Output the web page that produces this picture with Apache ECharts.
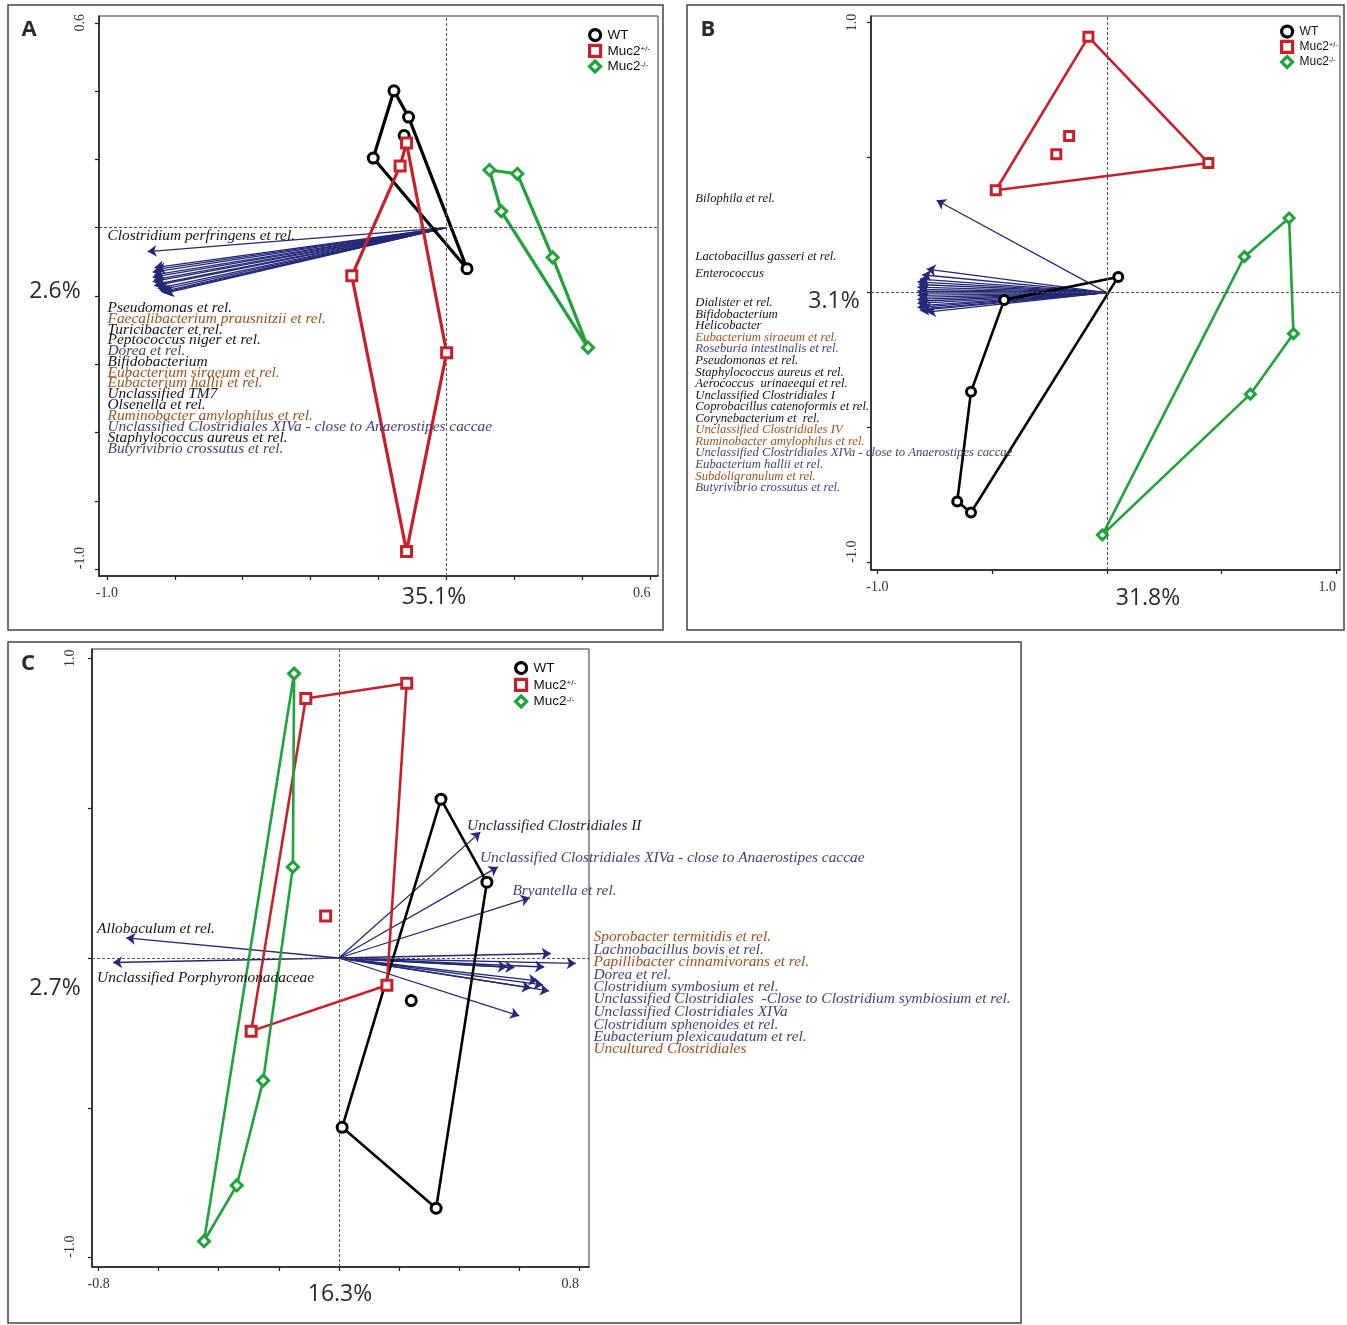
<!DOCTYPE html>
<html><head><meta charset="utf-8">
<script src="https://cdn.jsdelivr.net/npm/echarts@6/dist/echarts.min.js"></script>
<style>html,body{margin:0;padding:0;background:#fff}#c{width:1347px;height:1325px}</style>
</head><body><div id="c"></div>
<script>
// ---------- shared ----------
const groups = ['WT', 'Muc2+/-', 'Muc2-/-'];
const K = '#141414', BR = '#a0501c', SL = '#42427a';

// ---------- Panel A ----------
const A_WT = [[-0.155, 0.401], [-0.112, 0.324], [-0.125, 0.270], [-0.216, 0.204], [0.060, -0.120]];
const A_WT_hull = [3, 0, 1, 4];
const A_HET = [[-0.118, 0.248], [-0.137, 0.181], [-0.279, -0.141], [0.0, -0.366], [-0.118, -0.948]];
const A_HET_hull = [0, 3, 4, 2, 1];
const A_KO = [[0.126, 0.169], [0.208, 0.158], [0.161, 0.048], [0.312, -0.087], [0.416, -0.351]];
const A_KO_hull = [0, 1, 3, 4, 2];
const A_arrowTips = [[-0.880, -0.070], [-0.860, -0.117], [-0.855, -0.122], [-0.865, -0.130], [-0.860, -0.138],
  [-0.865, -0.145], [-0.860, -0.152], [-0.865, -0.158], [-0.855, -0.165], [-0.860, -0.170],
  [-0.850, -0.178], [-0.845, -0.183], [-0.840, -0.188], [-0.835, -0.190], [-0.830, -0.192]];
const A_labels = ['Clostridium perfringens et rel.', 'Pseudomonas et rel.', 'Faecalibacterium prausnitzii et rel.',
  'Turicibacter et rel.', 'Peptococcus niger et rel.', 'Dorea et rel.', 'Bifidobacterium',
  'Eubacterium siraeum et rel.', 'Eubacterium hallii et rel.', 'Unclassified TM7', 'Olsenella et rel.',
  'Ruminobacter amylophilus et rel.', 'Unclassified Clostridiales XIVa - close to Anaerostipes caccae',
  'Staphylococcus aureus et rel.', 'Butyrivibrio crossutus et rel.'];
const A_labelColors = [K, K, BR, K, K, SL, K, BR, BR, K, K, BR, SL, K, SL];
const A_labelPos = [[-0.998, -0.025], [-0.998, -0.234], [-0.998, -0.266], [-0.998, -0.298], [-0.998, -0.329],
  [-0.998, -0.361], [-0.998, -0.393], [-0.998, -0.425], [-0.998, -0.456], [-0.998, -0.488],
  [-0.998, -0.520], [-0.998, -0.552], [-0.998, -0.583], [-0.998, -0.615], [-0.998, -0.647]];
const A_xTicks = [-1.0, -0.8, -0.6, -0.4, -0.2, 0.0, 0.2, 0.4, 0.6];
const A_yTicks = [-1.0, -0.8, -0.6, -0.4, -0.2, 0.0, 0.2, 0.4, 0.6];
const A_xLabels = [-1.0, 0.6];
const A_yLabels = [-1.0, 0.6];

// ---------- Panel B ----------
const B_WT = [[0.050, 0.058], [-0.447, -0.027], [-0.592, -0.367], [-0.652, -0.773], [-0.592, -0.814]];
const B_WT_hull = [0, 1, 2, 3, 4];
const B_HET = [[-0.080, 0.947], [-0.164, 0.580], [-0.220, 0.512], [0.443, 0.480], [-0.484, 0.379]];
const B_HET_hull = [0, 3, 4];
const B_KO = [[0.795, 0.276], [0.600, 0.133], [0.814, -0.152], [0.626, -0.376], [-0.019, -0.897]];
const B_KO_hull = [0, 2, 3, 4, 1];
const B_arrowTips = [[-0.742, 0.342], [-0.785, 0.087], [-0.805, 0.066], [-0.815, 0.050], [-0.825, 0.040],
  [-0.820, 0.030], [-0.825, 0.020], [-0.815, 0.012], [-0.825, 0.005], [-0.820, -0.002], [-0.825, -0.010],
  [-0.815, -0.018], [-0.825, -0.025], [-0.820, -0.032], [-0.825, -0.040], [-0.815, -0.048],
  [-0.825, -0.055], [-0.805, -0.060], [-0.815, -0.066], [-0.785, -0.072]];
const B_labels = ['Bilophila et rel.', 'Lactobacillus gasseri et rel.', 'Enterococcus', 'Dialister et rel.',
  'Bifidobacterium', 'Helicobacter', 'Eubacterium siraeum et rel.', 'Roseburia intestinalis et rel.',
  'Pseudomonas et rel.', 'Staphylococcus aureus et rel.', 'Aerococcus  urinaeequi et rel.',
  'Unclassified Clostridiales I', 'Coprobacillus catenoformis et rel.', 'Corynebacterium et  rel.',
  'Unclassified Clostridiales IV', 'Ruminobacter amylophilus et rel.',
  'Unclassified Clostridiales XIVa - close to Anaerostipes caccae', 'Eubacterium hallii et rel.',
  'Subdoligranulum et rel.', 'Butyrivibrio crossutus et rel.'];
const B_labelColors = [K, K, K, K, K, K, BR, SL, K, K, K, K, K, K, BR, BR, SL, SL, BR, SL];
const B_labelPos = [[-1.794, 0.347], [-1.794, 0.134], [-1.794, 0.071], [-1.794, -0.038], [-1.794, -0.081],
  [-1.794, -0.124], [-1.794, -0.166], [-1.794, -0.209], [-1.794, -0.252], [-1.794, -0.295],
  [-1.794, -0.338], [-1.794, -0.380], [-1.794, -0.423], [-1.794, -0.466], [-1.794, -0.509],
  [-1.794, -0.552], [-1.794, -0.594], [-1.794, -0.637], [-1.794, -0.680], [-1.794, -0.723]];
const B_xTicks = [-1.0, -0.5, 0.0, 0.5, 1.0];
const B_yTicks = [-1.0, -0.5, 0.0, 0.5, 1.0];
const B_xLabels = [-1.0, 1.0];
const B_yLabels = [-1.0, 1.0];

// ---------- Panel C ----------
const C_WT = [[0.340, 0.530], [0.493, 0.253], [0.241, -0.142], [0.011, -0.565], [0.324, -0.835]];
const C_WT_hull = [0, 1, 4, 3];
const C_HET = [[0.226, 0.917], [-0.110, 0.866], [-0.044, 0.140], [0.160, -0.091], [-0.292, -0.244]];
const C_HET_hull = [1, 0, 3, 4];
const C_KO = [[-0.149, 0.949], [-0.153, 0.304], [-0.252, -0.409], [-0.340, -0.759], [-0.449, -0.945]];
const C_KO_hull = [0, 1, 2, 3, 4];
const C_arrowTips = [[0.471, 0.420], [0.530, 0.304], [0.636, 0.201], [-0.708, 0.067], [-0.752, -0.015],
  [0.706, 0.015], [0.789, -0.018], [0.684, -0.030], [0.585, -0.032], [0.560, -0.030],
  [0.662, -0.076], [0.680, -0.090], [0.640, -0.100], [0.700, -0.110], [0.601, -0.193]];
const C_labels = ['Unclassified Clostridiales II', 'Unclassified Clostridiales XIVa - close to Anaerostipes caccae',
  'Bryantella et rel.', 'Allobaculum et rel.', 'Unclassified Porphyromonadaceae',
  'Sporobacter termitidis et rel.', 'Lachnobacillus bovis et rel.', 'Papillibacter cinnamivorans et rel.',
  'Dorea et rel.', 'Clostridium symbosium et rel.',
  'Unclassified Clostridiales  -Close to Clostridium symbiosium et rel.', 'Unclassified Clostridiales XIVa',
  'Clostridium sphenoides et rel.', 'Eubacterium plexicaudatum et rel.', 'Uncultured Clostridiales'];
const C_labelColors = ['#22223a', SL, SL, K, K, BR, SL, BR, SL, SL, SL, SL, SL, SL, BR];
const C_labelPos = [[0.427, 0.439], [0.470, 0.334], [0.578, 0.224], [-0.805, 0.096], [-0.805, -0.068],
  [0.848, 0.070], [0.848, 0.028], [0.848, -0.013], [0.848, -0.055], [0.848, -0.097],
  [0.848, -0.138], [0.848, -0.180], [0.848, -0.222], [0.848, -0.263], [0.848, -0.305]];
const C_xTicks = [-0.8, -0.6, -0.4, -0.2, 0.0, 0.2, 0.4, 0.6, 0.8];
const C_yTicks = [-1.0, -0.5, 0.0, 0.5, 1.0];
const C_xLabels = [-0.8, 0.8];
const C_yLabels = [-1.0, 1.0];

// ---------- styling / layout (not data) ----------
const groupStyle = {
  'WT': {symbol: 'circle', color: '#000000'},
  'Muc2+/-': {symbol: 'rect', color: '#c8202a'},
  'Muc2-/-': {symbol: 'diamond', color: '#1fa33a'}
};
const ARROW = '#232878';
const panels = [
  {grid: {left: 99, top: 16, width: 559, height: 560}, xr: [-1.023, 0.622], yr: [-1.020, 0.620],
   pts: [A_WT, A_HET, A_KO], hulls: [A_WT_hull, A_HET_hull, A_KO_hull], tips: A_arrowTips,
   labels: A_labels, lcol: A_labelColors, lpos: A_labelPos, lfs: 15.4, hw: 3.2, ms: 11,
   xt: A_xTicks, yt: A_yTicks, xl: A_xLabels, yl: A_yLabels, ylm: 12,
   legend: {left: 588, top: 28, fs: 13.5, lh: 12, gap: 1.5}},
  {grid: {left: 871, top: 16, width: 469, height: 554}, xr: [-1.028, 1.017], yr: [-1.027, 1.024],
   pts: [B_WT, B_HET, B_KO], hulls: [B_WT_hull, B_HET_hull, B_KO_hull], tips: B_arrowTips,
   labels: B_labels, lcol: B_labelColors, lpos: B_labelPos, lfs: 12.7, hw: 2.6, ms: 10,
   xt: B_xTicks, yt: B_yTicks, xl: B_xLabels, yl: B_yLabels, ylm: 12,
   legend: {left: 1280, top: 24.5, fs: 12, lh: 11, gap: 1}},
  {grid: {left: 92, top: 649, width: 497, height: 618}, xr: [-0.822, 0.833], yr: [-1.031, 1.031],
   pts: [C_WT, C_HET, C_KO], hulls: [C_WT_hull, C_HET_hull, C_KO_hull], tips: C_arrowTips,
   labels: C_labels, lcol: C_labelColors, lpos: C_labelPos, lfs: 15.4, hw: 2.6, ms: 11,
   xt: C_xTicks, yt: C_yTicks, xl: C_xLabels, yl: C_yLabels, ylm: 15,
   legend: {left: 514, top: 661, fs: 13.5, lh: 12, gap: 2.5}}
];

const grid = [], xAxis = [], yAxis = [], series = [], legend = [];
const fmt = v => Number(v).toFixed(1);
const axisCommon = {
  axisLine: {show: true, onZero: false, lineStyle: {color: '#1a1a1a', width: 1.5}},
  splitLine: {show: false}
};
panels.forEach((p, gi) => {
  grid.push(Object.assign({show: true, borderColor: '#333', borderWidth: 1, backgroundColor: 'transparent'}, p.grid));
  xAxis.push(Object.assign({}, axisCommon, {
    type: 'value', gridIndex: gi, min: p.xr[0], max: p.xr[1],
    axisTick: {show: true, length: 4, inside: false, customValues: p.xt, lineStyle: {color: '#1a1a1a', width: 1.2}},
    axisLabel: {show: true, customValues: p.xl, formatter: fmt, margin: 10, alignMaxLabel: 'right',
      fontFamily: 'Liberation Serif', fontSize: 14, color: '#333'}
  }));
  yAxis.push(Object.assign({}, axisCommon, {
    type: 'value', gridIndex: gi, min: p.yr[0], max: p.yr[1],
    axisTick: {show: true, length: 4, inside: false, customValues: p.yt, lineStyle: {color: '#1a1a1a', width: 1.2}},
    axisLabel: {show: true, customValues: p.yl, formatter: fmt, margin: p.ylm, rotate: 90,
      alignMinLabel: 'left',
      fontFamily: 'Liberation Serif', fontSize: 14, color: '#333'}
  }));
  // arrows
  series.push({
    type: 'lines', coordinateSystem: 'cartesian2d', xAxisIndex: gi, yAxisIndex: gi, silent: true, z: 3,
    symbol: ['none', 'arrow'], symbolSize: [0, 9],
    lineStyle: {color: ARROW, width: 1.3, opacity: 1, curveness: 0},
    data: p.tips.map(t => ({coords: [[0, 0], t]}))
  });
  // labels (+ dashed origin cross)
  series.push({
    type: 'scatter', xAxisIndex: gi, yAxisIndex: gi, silent: true, clip: false, z: 6,
    symbolSize: 0, itemStyle: {opacity: 1},
    data: p.labels.map((n, i) => ({name: n, value: p.lpos[i], label: {color: p.lcol[i]}})),
    label: {show: true, position: 'right', distance: 0, formatter: '{b}', opacity: 1,
      fontFamily: 'Liberation Serif', fontStyle: 'italic', fontSize: p.lfs},
    markLine: {silent: true, symbol: 'none', label: {show: false},
      lineStyle: {color: '#555', width: 1, type: [3, 2], opacity: 1},
      data: [{xAxis: 0}, {yAxis: 0}]}
  });
  groups.forEach((g, k) => {
    const st = groupStyle[g];
    const pts = p.pts[k];
    const hull = p.hulls[k].concat([p.hulls[k][0]]);
    series.push({
      type: 'line', name: g, xAxisIndex: gi, yAxisIndex: gi, silent: true, z: 4,
      showSymbol: false, symbol: 'none',
      lineStyle: {color: st.color, width: p.hw},
      data: hull.map(i => pts[i])
    });
    series.push({
      type: 'scatter', name: g, xAxisIndex: gi, yAxisIndex: gi, silent: true, z: 5,
      symbol: st.symbol, symbolSize: st.symbol === 'diamond' ? p.ms : p.ms - 1,
      itemStyle: {color: '#ffffff', borderColor: st.color, borderWidth: 3, opacity: 1},
      data: pts
    });
  });
  legend.push({
    left: p.legend.left, top: p.legend.top, orient: 'vertical', selectedMode: false, padding: 0,
    itemWidth: 11, itemHeight: 11, itemGap: p.legend.gap,
    data: groups.map(g => ({name: g, icon: groupStyle[g].symbol,
      itemStyle: {color: '#fff', borderColor: groupStyle[g].color, borderWidth: 3.2}})),
    formatter: n => n === 'WT' ? 'WT' : 'Muc2{s|' + n.slice(4) + '}',
    textStyle: {fontFamily: 'Liberation Sans', fontSize: p.legend.fs, lineHeight: p.legend.lh, color: '#111',
      padding: [0, 0, 0, 2],
      rich: {s: {fontSize: p.legend.fs * 0.6, verticalAlign: 'top', lineHeight: p.legend.lh,
        fontFamily: 'Liberation Sans', color: '#111'}}}
  });
});

const txt = (s, x, y, size, bold) => ({type: 'text', silent: true,
  style: {text: s, x: x, y: y, align: 'center', verticalAlign: 'middle',
    fontFamily: 'Open Sans', fontSize: size, fontWeight: bold ? 'bold' : 'normal', fill: '#2a2a2a'}});
const rect = (x, y, w, h) => ({type: 'rect', silent: true, shape: {x: x, y: y, width: w, height: h},
  style: {fill: 'none', stroke: '#444', lineWidth: 1.5}});
const graphic = [
  rect(8, 5, 655, 625), rect(687, 5, 657, 625), rect(8, 642, 1013, 681),
  txt('A', 29, 30, 22, true), txt('B', 708, 30, 22, true), txt('C', 28, 664, 22, true),
  txt('2.6%', 55, 291, 23), txt('35.1%', 434, 597, 23),
  txt('3.1%', 834, 301, 23), txt('31.8%', 1148, 598, 23),
  txt('2.7%', 55, 988, 23), txt('16.3%', 340, 1294, 23)
];

const chart = echarts.init(document.getElementById('c'), null, {renderer: 'canvas'});
chart.setOption({animation: false, backgroundColor: '#fff', grid, xAxis, yAxis, series, legend, graphic});
</script></body></html>
